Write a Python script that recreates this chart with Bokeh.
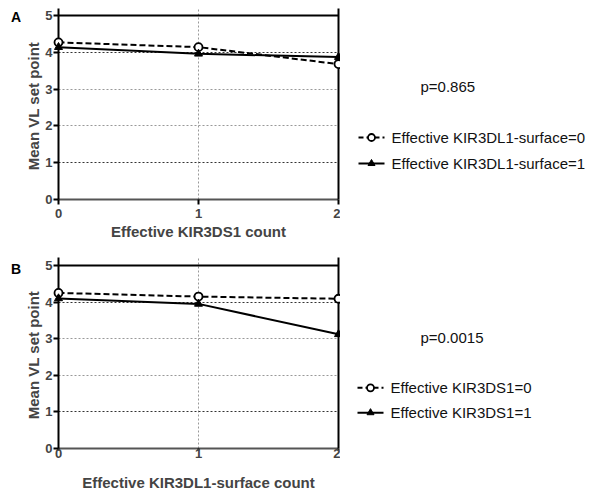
from bokeh.plotting import figure
from bokeh.models import Range1d, LinearAxis, FixedTicker, Grid, Span
from bokeh.layouts import column, row
from bokeh.core.properties import value
from bokeh.embed import file_html
from bokeh.resources import INLINE

# ---- data ----
x_counts = [0, 1, 2]
a_surface0 = [4.27, 4.14, 3.68]
a_surface1 = [4.14, 3.96, 3.87]
b_ds1_0 = [4.25, 4.15, 4.09]
b_ds1_1 = [4.10, 3.95, 3.12]

a_labels = ["Effective KIR3DL1-surface=0", "Effective KIR3DL1-surface=1"]
b_labels = ["Effective KIR3DS1=0", "Effective KIR3DS1=1"]
a_xlabel = "Effective KIR3DS1 count"
b_xlabel = "Effective KIR3DL1-surface count"
y_label = "Mean  VL set point"
a_p = "p=0.865"
b_p = "p=0.0015"
y_ticks = [0, 1, 2, 3, 4, 5]
y_max = 5

FONT = "Liberation Sans"
W_LETTER = 21
W_MAIN = 319
W_SIDE = 591 - W_LETTER - W_MAIN
X_SIDE = W_LETTER + W_MAIN
PX_PER_UNIT = 36.8


def blank(width, height, frame_top, frame_bottom, x0=0):
    # frames of a row are aligned, so map page pixels over the shared frame
    f = figure(width=width, height=height, output_backend="svg", toolbar_location=None,
               title=None, x_range=Range1d(x0, x0 + width),
               y_range=Range1d(height - frame_bottom, height - frame_top),
               min_border=0, x_axis_location=None, y_axis_location=None)
    f.outline_line_color = None
    f.xgrid.visible = False
    f.ygrid.visible = False
    return f


def make_main(height, frame_top, frame_bottom, s0, s1, xlabel, tick_out_x, x_standoff,
              xlabel_standoff):
    top_pad = (frame_bottom - frame_top) / PX_PER_UNIT - y_max
    p = figure(width=W_MAIN, height=height, output_backend="svg", toolbar_location=None,
               title=None, x_range=Range1d(0, 2), y_range=Range1d(0, y_max + top_pad),
               min_border_left=58 - W_LETTER, min_border_right=2,
               min_border_top=frame_top, min_border_bottom=height - frame_bottom,
               x_axis_location=None, y_axis_location=None)
    p.outline_line_color = None

    left = LinearAxis(ticker=FixedTicker(ticks=y_ticks), axis_label=y_label)
    left.axis_line_width = 2
    left.axis_line_color = "black"
    left.major_tick_line_width = 2
    left.major_tick_out = 5
    left.major_tick_in = 0
    left.minor_tick_line_color = None
    left.major_label_standoff = 1
    left.major_label_text_font = FONT
    left.major_label_text_font_style = "bold"
    left.major_label_text_font_size = "13px"
    left.axis_label_text_font = FONT
    left.axis_label_text_font_style = "bold"
    left.axis_label_text_font_size = "15px"
    left.axis_label_standoff = 0
    p.add_layout(left, "left")

    bottom_ax = LinearAxis(ticker=FixedTicker(ticks=x_counts), axis_label=xlabel)
    bottom_ax.axis_line_width = 2
    bottom_ax.axis_line_color = "#555555"
    bottom_ax.major_tick_line_width = 2
    bottom_ax.major_tick_line_color = "black"
    bottom_ax.major_tick_out = tick_out_x
    bottom_ax.major_tick_in = 0
    bottom_ax.minor_tick_line_color = None
    bottom_ax.major_label_standoff = x_standoff
    bottom_ax.major_label_text_font = FONT
    bottom_ax.major_label_text_font_style = "bold"
    bottom_ax.major_label_text_font_size = "13px"
    bottom_ax.axis_label_text_font = FONT
    bottom_ax.axis_label_text_font_style = "bold"
    bottom_ax.axis_label_text_font_size = "15px"
    bottom_ax.axis_label_standoff = xlabel_standoff
    p.add_layout(bottom_ax, "below")

    right_ax = LinearAxis(ticker=FixedTicker(ticks=[]))
    right_ax.axis_line_width = 2
    right_ax.axis_line_color = "black"
    right_ax.major_tick_line_color = None
    right_ax.minor_tick_line_color = None
    p.add_layout(right_ax, "right")

    p.add_layout(Span(location=y_max, dimension="width", line_color="black",
                      line_width=2))

    p.xgrid.ticker = FixedTicker(ticks=[1])
    p.xgrid.grid_line_color = "#999999"
    p.xgrid.grid_line_dash = "2 2"
    p.ygrid.ticker = FixedTicker(ticks=[2, 3])
    p.ygrid.grid_line_color = "#999999"
    p.ygrid.grid_line_dash = "2 2"
    g2 = Grid(dimension=1, ticker=FixedTicker(ticks=[1, 4]),
              grid_line_color="#333333", grid_line_dash="2 2")
    p.add_layout(g2)

    l0 = p.line(x_counts, s0, line_color="black", line_width=2, line_dash="6 3")
    m0 = p.scatter(x_counts, s0, marker="circle", size=8, fill_color="white",
                   line_color="black", line_width=1.8)
    l1 = p.line(x_counts, s1, line_color="black", line_width=2)
    m1 = p.scatter(x_counts, s1, marker="triangle", size=8, fill_color="black",
                   line_color="black")
    for r in (l0, m0, l1, m1):
        r.level = "overlay"
    return p


def make_side(height, frame_top, frame_bottom, labels, ptext, p_xy, key_x, row_ys):
    """Side panel drawn in page-pixel coordinates (y measured from the panel top)."""
    s = blank(W_SIDE, height, frame_top, frame_bottom, X_SIDE)
    ys = [height - r for r in row_ys]
    kx0, kx1 = key_x, key_x + 26
    kxm = (kx0 + kx1) / 2
    s.line([kx0, kx1], [ys[0], ys[0]], line_color="black", line_width=2, line_dash="5 3")
    s.scatter([kxm], [ys[0]], marker="circle", size=7, fill_color="white",
              line_color="black", line_width=1.8)
    s.line([kx0, kx1], [ys[1], ys[1]], line_color="black", line_width=2)
    s.scatter([kxm], [ys[1]], marker="triangle", size=7, fill_color="black",
              line_color="black")
    s.text(x=[kx1 + 7, kx1 + 7], y=ys, text=labels, text_font=value(FONT),
           text_font_size="15px", text_baseline="middle", text_color="#111111")
    s.text(x=[p_xy[0]], y=[height - p_xy[1]], text=[ptext], text_font=value(FONT),
           text_font_size="15px", text_baseline="middle", text_color="#111111")
    return s


def make_letter(height, frame_top, frame_bottom, letter, y):
    f = blank(W_LETTER, height, frame_top, frame_bottom)
    f.text(x=[15.5], y=[height - y], text=[letter], text_font=value(FONT),
           text_font_size="14px", text_font_style="bold", text_align="center",
           text_baseline="middle", text_color="black")
    return f


HA, HB = 245, 248
FA = (8, 199)     # frame top / bottom inside panel A (pixels)
FB = (12, 204)    # frame top / bottom inside panel B (pixels)
row_a = row(make_letter(HA, *FA, "A", 16.5),
            make_main(HA, *FA, a_surface0, a_surface1, a_xlabel, 5, 4, 2),
            make_side(HA, *FA, a_labels, a_p, (420, 86), 358, (137, 163)), spacing=0)
row_b = row(make_letter(HB, *FB, "B", 24),
            make_main(HB, *FB, b_ds1_0, b_ds1_1, b_xlabel, 2, -2, 13),
            make_side(HB, *FB, b_labels, b_p, (420, 92), 357, (143, 168)), spacing=0)

layout = column(row_a, row_b, spacing=0)
open("out.html", "w").write(file_html(layout, INLINE))
